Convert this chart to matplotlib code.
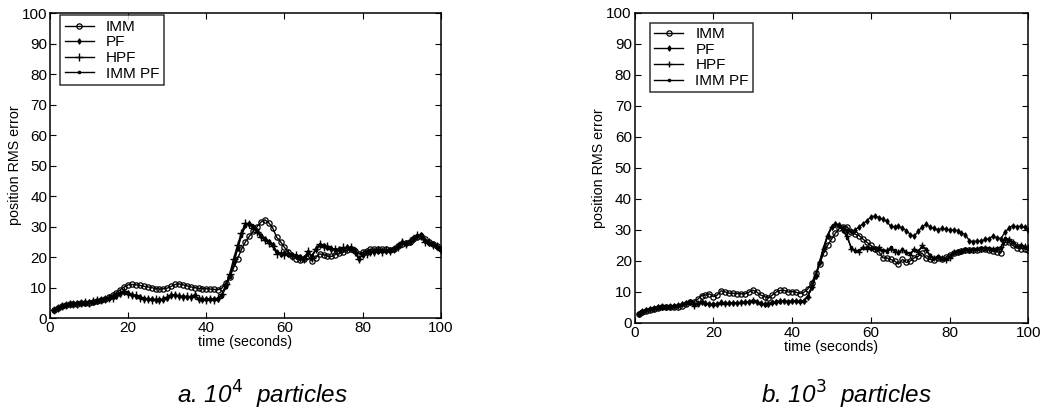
import matplotlib
matplotlib.use("Agg")
import matplotlib.pyplot as plt
import numpy as np

plt.rcParams['font.family'] = ['Liberation Sans', 'DejaVu Sans']

t = np.arange(1, 101)

# 10^4 particles
imm_a = [2.5, 3.2, 3.8, 4.2, 4.5, 4.5, 4.6, 4.8, 5.0, 5.0,
         5.3, 5.6, 6.0, 6.3, 6.8, 7.5, 8.3, 9.3, 10.2, 10.9,
         11.0, 10.9, 10.7, 10.4, 10.2, 10.0, 9.6, 9.5, 9.6, 9.8,
         10.4, 11.0, 11.2, 10.9, 10.6, 10.2, 10.0, 9.7, 9.6, 9.6,
         9.5, 9.4, 9.3, 9.8, 11.5, 13.5, 16.5, 19.5, 22.5, 25.0,
         26.8, 28.5, 30.0, 31.5, 32.2, 31.2, 29.5, 26.5, 25.0, 23.2,
         21.5, 20.5, 19.5, 19.0, 19.2, 20.5, 18.8, 19.8, 21.0, 20.8,
         20.3, 20.2, 20.8, 21.2, 21.5, 22.2, 22.5, 22.0, 21.0, 21.5,
         22.0, 22.5, 22.6, 22.6, 22.5, 22.5, 22.4, 22.8, 23.5, 24.2,
         24.5, 25.0, 25.8, 26.5, 27.0, 26.0, 25.0, 24.2, 23.5, 22.6]
pf_a = [2.5, 3.3, 3.9, 4.3, 4.6, 4.6, 4.8, 4.9, 5.0, 5.1,
        5.4, 5.7, 6.0, 6.2, 6.5, 6.8, 7.2, 8.0, 8.6, 8.1,
        7.6, 7.3, 6.8, 6.4, 6.2, 6.1, 6.0, 6.0, 6.1, 6.6,
        7.4, 7.6, 7.2, 7.0, 7.0, 6.9, 7.4, 6.3, 6.1, 6.1,
        6.2, 6.2, 6.4, 7.5, 10.5, 14.0, 18.5, 23.0, 27.5, 30.5,
        31.0, 30.0, 28.5, 27.0, 25.8, 25.0, 24.0, 21.5, 21.0, 21.2,
        21.0, 20.8, 20.5, 20.0, 19.6, 21.5, 20.2, 22.5, 24.0, 23.6,
        23.2, 22.8, 22.4, 22.6, 22.8, 23.2, 23.0, 22.2, 19.5, 20.8,
        21.3, 21.5, 21.8, 22.0, 22.0, 22.1, 22.2, 22.5, 23.5, 24.8,
        24.6, 25.0, 26.0, 27.0, 27.2, 25.2, 24.6, 24.2, 23.4, 22.6]
hpf_a = [2.6, 3.4, 4.0, 4.4, 4.5, 4.7, 4.7, 5.0, 5.1, 5.0,
         5.5, 5.8, 5.9, 6.3, 6.6, 6.7, 7.4, 8.2, 8.8, 7.9,
         7.4, 7.5, 6.6, 6.3, 6.4, 5.9, 6.2, 5.8, 6.3, 6.8,
         7.6, 7.4, 7.3, 6.8, 7.2, 6.8, 7.6, 6.1, 6.3, 5.9,
         6.4, 6.0, 6.6, 7.8, 11.0, 14.5, 19.5, 24.0, 28.0, 31.2,
         30.8, 29.5, 28.2, 26.5, 25.5, 24.6, 23.6, 21.0, 21.4, 20.8,
         21.3, 20.5, 20.8, 19.8, 19.4, 22.0, 19.8, 22.8, 24.3, 23.2,
         23.5, 22.5, 22.8, 22.2, 23.2, 22.9, 23.4, 21.8, 19.2, 21.0,
         21.0, 21.8, 21.6, 22.3, 21.8, 22.4, 22.0, 22.8, 23.2, 25.0,
         24.3, 25.3, 25.8, 27.3, 27.0, 24.8, 24.9, 24.0, 23.7, 22.4]
immpf_a = [2.4, 3.2, 3.8, 4.2, 4.7, 4.5, 4.9, 4.8, 4.9, 5.2,
           5.3, 5.6, 6.1, 6.1, 6.4, 6.9, 7.1, 7.8, 8.4, 8.3,
           7.7, 7.1, 6.9, 6.5, 6.1, 6.2, 5.9, 6.1, 6.0, 6.5,
           7.2, 7.7, 7.1, 7.1, 6.9, 7.0, 7.2, 6.4, 6.0, 6.2,
           6.1, 6.3, 6.3, 7.3, 10.2, 13.6, 18.0, 22.6, 27.0, 30.2,
           31.2, 30.3, 28.8, 27.3, 26.0, 25.2, 24.2, 21.8, 20.8, 21.4,
           20.8, 21.0, 20.3, 20.2, 19.8, 21.2, 20.5, 22.2, 23.8, 23.8,
           23.0, 23.0, 22.2, 22.8, 22.6, 23.4, 22.8, 22.4, 19.8, 20.6,
           21.5, 21.3, 22.0, 21.8, 22.2, 21.9, 22.4, 22.3, 23.8, 24.6,
           24.8, 24.8, 26.2, 26.8, 27.4, 25.4, 24.4, 24.4, 23.2, 22.8]

# 10^3 particles
imm_b = [3.0, 3.5, 4.0, 4.2, 4.4, 4.7, 5.0, 5.0, 5.0, 5.0,
         5.2, 5.5, 6.2, 6.8, 6.8, 7.6, 8.8, 9.0, 9.4, 8.5,
         9.0, 10.4, 10.0, 9.6, 9.6, 9.5, 9.4, 9.4, 9.9, 10.6,
         10.0, 9.0, 8.5, 8.0, 9.0, 10.0, 10.5, 10.5, 10.0, 10.1,
         9.9, 9.5, 9.9, 11.0, 13.0, 16.0, 19.0, 22.5, 25.0, 27.0,
         29.0, 30.5, 31.0, 31.0, 29.2, 28.6, 28.2, 27.0, 26.0, 25.0,
         24.0, 23.0, 21.0, 21.0, 20.5, 20.0, 19.0, 20.5, 19.5, 20.0,
         21.0, 21.5, 22.5, 21.0, 20.5, 20.2, 21.0, 20.5, 21.2, 22.0,
         22.6, 23.0, 23.2, 23.5, 23.4, 23.5, 23.6, 24.0, 23.8, 23.5,
         23.2, 23.0, 22.6, 26.0, 26.0, 25.0, 24.2, 24.0, 24.0, 23.6]
pf_b = [3.0, 3.6, 4.2, 4.5, 4.7, 5.0, 5.3, 5.2, 5.4, 5.5,
        5.7, 6.0, 6.5, 6.6, 6.0, 6.2, 6.8, 6.4, 6.1, 6.0,
        6.2, 6.6, 6.3, 6.3, 6.5, 6.4, 6.6, 6.6, 6.8, 7.2,
        6.8, 6.3, 6.0, 6.2, 6.6, 6.8, 7.0, 7.1, 6.9, 7.0,
        7.0, 7.0, 7.2, 8.5, 11.5, 15.0, 19.5, 24.0, 28.0, 30.8,
        32.0, 31.5, 30.5, 29.8, 29.5, 30.0, 31.0, 32.0, 33.0, 34.2,
        34.5, 34.0, 33.5, 32.8, 31.2, 31.0, 31.2, 30.5, 29.8, 28.5,
        28.0, 29.5, 31.0, 31.8, 31.0, 30.5, 30.0, 30.5, 30.2, 30.0,
        30.0, 29.8, 29.0, 28.5, 26.5, 26.2, 26.5, 26.3, 27.0, 27.2,
        28.0, 27.5, 27.2, 29.2, 30.5, 31.4, 31.0, 31.2, 30.8, 30.0]
hpf_b = [3.0, 3.7, 4.2, 4.5, 4.6, 5.0, 5.4, 5.2, 5.3, 5.5,
         5.6, 6.0, 6.4, 6.8, 5.6, 6.4, 6.6, 6.3, 6.0, 5.9,
         6.0, 6.5, 6.2, 6.4, 6.4, 6.5, 6.5, 6.7, 6.8, 7.3,
         6.7, 6.2, 6.0, 6.1, 6.5, 6.9, 7.0, 7.0, 6.9, 7.1,
         7.0, 6.9, 7.1, 8.5, 11.5, 15.0, 19.5, 24.0, 28.0, 30.8,
         32.0, 31.6, 30.0, 28.0, 24.0, 23.5, 23.0, 24.5, 24.0, 24.2,
         23.8, 24.5, 23.2, 23.5, 24.0, 23.0, 22.8, 23.5, 23.0, 22.0,
         24.0, 22.8, 25.0, 23.6, 21.5, 21.0, 21.2, 21.0, 20.2, 21.0,
         22.8, 23.0, 23.2, 23.5, 23.4, 23.6, 24.0, 23.8, 24.2, 24.0,
         24.0, 24.0, 24.5, 27.0, 27.2, 26.0, 25.0, 25.0, 24.8, 24.5]
immpf_b = [3.1, 3.6, 4.3, 4.4, 4.7, 4.9, 5.5, 5.3, 5.2, 5.6,
           5.8, 6.1, 6.3, 6.9, 5.8, 6.2, 6.7, 6.2, 6.1, 5.8,
           6.1, 6.4, 6.3, 6.3, 6.5, 6.4, 6.6, 6.6, 6.9, 7.2,
           6.8, 6.1, 5.9, 6.2, 6.4, 7.0, 6.9, 7.1, 6.8, 7.0,
           7.1, 6.8, 7.2, 8.8, 12.0, 15.5, 20.0, 24.5, 28.4, 31.0,
           31.8, 31.2, 29.6, 27.5, 24.4, 23.2, 23.4, 24.2, 24.4, 23.8,
           24.2, 24.0, 23.6, 23.0, 24.4, 23.4, 22.4, 23.8, 22.6, 22.4,
           23.6, 23.2, 24.6, 24.0, 21.8, 20.8, 21.5, 20.6, 20.5, 21.4,
           22.5, 23.3, 22.9, 23.8, 23.2, 23.9, 23.7, 24.1, 23.9, 24.3,
           23.8, 24.2, 24.2, 27.4, 26.8, 26.2, 24.8, 25.2, 24.6, 24.3]

labels = ['IMM', 'PF', 'HPF', 'IMM PF']

fig = plt.figure(figsize=(10.42, 4.13), dpi=100)
ax1 = fig.add_axes([0.048, 0.230, 0.375, 0.738])
ax2 = fig.add_axes([0.609, 0.218, 0.378, 0.751])


def draw(ax, imm, pf, hpf, immpf, plus_size, leg_xy):
    lw = 1.0
    ax.plot(t, imm, 'k-', marker='o', ms=3.8, mfc='none', mew=0.9, lw=lw, label=labels[0])
    ax.plot(t, pf, 'k-', marker='d', ms=2.8, mew=0.8, lw=lw, label=labels[1])
    ax.plot(t, hpf, 'k-', marker='+', ms=plus_size, mew=1.0, lw=lw, label=labels[2])
    ax.plot(t, immpf, 'k-', marker='.', ms=3.2, lw=lw, label=labels[3])
    ax.set_xlim(0, 100)
    ax.set_ylim(0, 100)
    ax.set_xticks(np.arange(0, 101, 20))
    ax.set_yticks(np.arange(0, 101, 10))
    ax.tick_params(direction='in', top=True, right=True, labelsize=11,
                   length=4, width=0.8, pad=2)
    for s in ax.spines.values():
        s.set_linewidth(1.1)
    ax.set_xlabel('time (seconds)', fontsize=10.3, labelpad=0)
    ax.set_ylabel('position RMS error', fontsize=10.3, labelpad=0)
    leg = ax.legend(loc='upper left', bbox_to_anchor=leg_xy, fontsize=11,
                    frameon=True, fancybox=False, edgecolor='k',
                    handlelength=1.9, handletextpad=0.8, labelspacing=0.1,
                    borderpad=0.3, borderaxespad=0)
    leg.get_frame().set_linewidth(1.1)


draw(ax1, imm_a, pf_a, hpf_a, immpf_a, 6, (0.026, 0.993))
draw(ax2, imm_b, pf_b, hpf_b, immpf_b, 4, (0.038, 0.968))

fig.text(0.252, 0.022, 'a. 10$^4$  particles', fontsize=17.5, style='italic', ha='center')
fig.text(0.812, 0.022, 'b. 10$^3$  particles', fontsize=17.5, style='italic', ha='center')

fig.savefig('out.png', dpi=100)
